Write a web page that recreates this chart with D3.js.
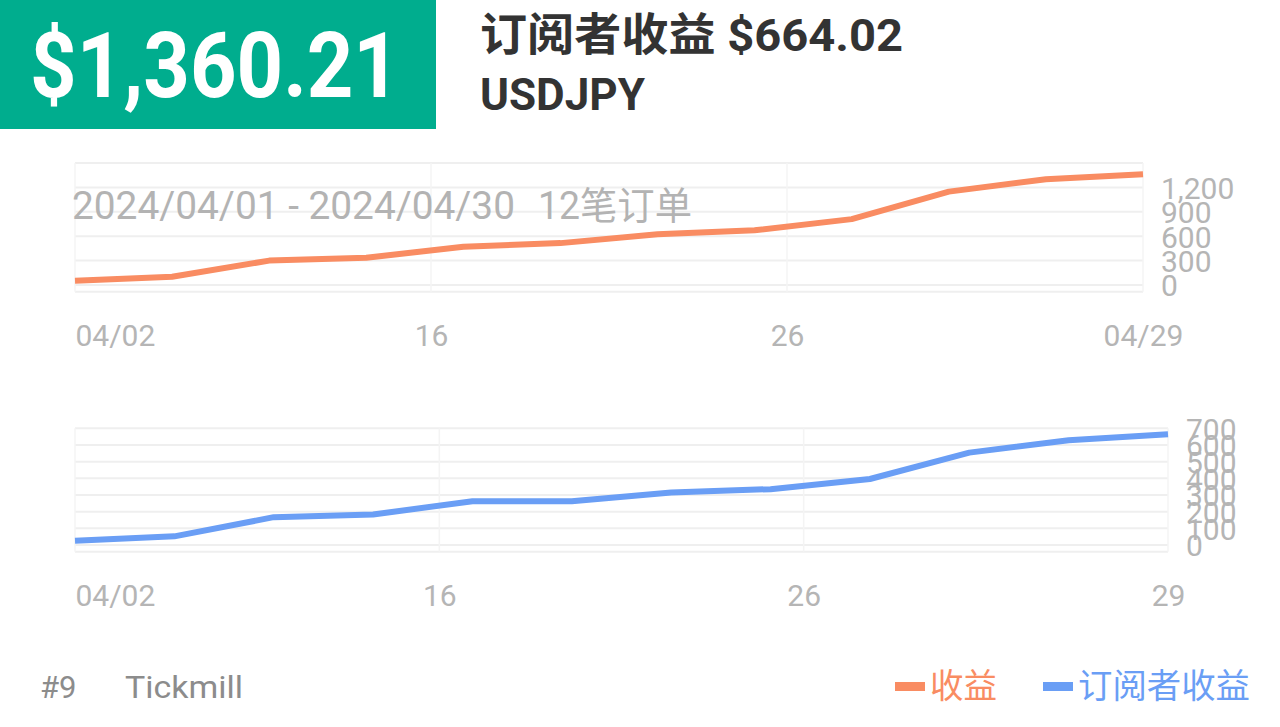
<!DOCTYPE html>
<html><head><meta charset="utf-8">
<script src="https://cdn.jsdelivr.net/npm/d3@7"></script>
<style>
body{margin:0;background:#fff;}
svg{display:block;font-family:Roboto,"Noto Sans CJK SC",sans-serif;}
</style>
</head><body><svg id="c" width="1280" height="727"></svg>
<script>
// ---- data ----
const orders = ["1","2","3","4","5","6","7","8","9","10","11","12"];
const revenue = [53, 102, 300, 335, 470, 515, 625, 672, 810, 1148, 1300, 1360.21];
const subscriberRevenue = [25, 52, 167, 183, 263, 263, 315, 335, 396, 554, 628, 664.02];
const xTickLabelsTop = ["04/02", "16", "26", "04/29"];
const xTickLabelsBottom = ["04/02", "16", "26", "29"];
const yGridTop = [0, 300, 600, 900, 1200, 1500];
const yLabelsTop = [0, 300, 600, 900, 1200];
const yGridBottom = [0, 100, 200, 300, 400, 500, 600, 700];
const yLabelsBottom = [0, 100, 200, 300, 400, 500, 600, 700];
const totalText = "$1,360.21";
const titleText = "订阅者收益 $664.02";
const symbolText = "USDJPY";
const subtitleDates = "2024/04/01 - 2024/04/30";
const subtitleOrders = "12笔订单";
const legendItems = ["收益", "订阅者收益"];
const colors = {revenue: "#f98c62", subscriber: "#6a9ef5", green: "#00ad8e", grid: "#efefef", axis: "#b5b5b5"};

const svg = d3.select("#c");

// header
svg.append("rect").attr("x", 0).attr("y", 0).attr("width", 436).attr("height", 129).attr("fill", colors.green);
svg.append("text").attr("x", 30).attr("y", 97).attr("font-size", 90).attr("font-weight", 700)
  .attr("fill", "#fff").attr("textLength", 370).attr("lengthAdjust", "spacingAndGlyphs").text(totalText);
svg.append("text").attr("x", 480).attr("y", 51).attr("font-size", 45).attr("font-weight", 700)
  .attr("fill", "#333").attr("textLength", 423).attr("lengthAdjust", "spacingAndGlyphs").text(titleText);
svg.append("text").attr("x", 480).attr("y", 110).attr("font-size", 44).attr("font-weight", 700)
  .attr("fill", "#333").text(symbolText);

function drawChart(o) {
  const g = svg.append("g");
  const x = d3.scaleLinear().domain([0, orders.length - 1]).range([o.x0, o.x1]);
  const y = d3.scaleLinear().domain([0, o.yMax]).range([o.bottom - 6.7, o.top]);
  const n = orders.length - 1;
  const xt = [0, n / 3, 2 * n / 3, n];
  // horizontal grid
  g.selectAll(".hg").data(o.grid).join("line")
    .attr("x1", o.x0).attr("x2", o.x1).attr("y1", d => y(d)).attr("y2", d => y(d))
    .attr("stroke", colors.grid).attr("stroke-width", 2);
  g.append("line").attr("x1", o.x0).attr("x2", o.x1).attr("y1", o.bottom).attr("y2", o.bottom)
    .attr("stroke", colors.grid).attr("stroke-width", 2);
  // vertical grid
  g.selectAll(".vg").data(xt).join("line")
    .attr("x1", d => x(d)).attr("x2", d => x(d)).attr("y1", o.top).attr("y2", o.bottom)
    .attr("stroke", "#f4f4f4").attr("stroke-width", 1.5);
  if (o.subtitle) {
    g.append("text").attr("x", 72).attr("y", 219).attr("font-size", 38).attr("fill", "#b3b3b3")
      .attr("textLength", 443).attr("lengthAdjust", "spacingAndGlyphs").text(o.subtitle[0]);
    g.append("text").attr("x", 538).attr("y", 219).attr("font-size", 38).attr("fill", "#b3b3b3")
      .attr("textLength", 154).attr("lengthAdjust", "spacingAndGlyphs").text(o.subtitle[1]);
  }
  // line
  g.append("path").datum(o.values)
    .attr("d", d3.line().x((d, i) => x(i)).y(d => y(d)))
    .attr("fill", "none").attr("stroke", o.color).attr("stroke-width", 6)
    .attr("stroke-linejoin", "round");
  // y axis labels
  const ya = g.append("g").attr("transform", `translate(${o.x1 + 18},0)`)
    .call(d3.axisRight(y).tickValues(o.labels).tickSize(0).tickPadding(0).tickFormat(d3.format(",")));
  ya.select(".domain").remove();
  ya.selectAll("text").attr("font-size", 30).attr("fill", colors.axis).attr("font-family", "Roboto").attr("dy", "0.36em");
  // x axis labels
  const xa = g.append("g").attr("transform", `translate(0,${o.xLabelY})`)
    .call(d3.axisBottom(x).tickValues(xt).tickSize(0).tickPadding(0).tickFormat((d, i) => o.xLabels[i]));
  xa.select(".domain").remove();
  xa.selectAll("text").attr("font-size", 30).attr("fill", colors.axis).attr("font-family", "Roboto")
    .attr("dy", 0).attr("y", 0)
    .attr("text-anchor", (d, i) => i === 0 ? "start" : "middle");
}

drawChart({values: revenue, color: colors.revenue, x0: 75, x1: 1143, top: 163, bottom: 291.7, yMax: 1500,
  grid: yGridTop, labels: yLabelsTop, xLabels: xTickLabelsTop, xLabelY: 346, subtitle: [subtitleDates, subtitleOrders]});
drawChart({values: subscriberRevenue, color: colors.subscriber, x0: 75, x1: 1168, top: 428.3, bottom: 551.7, yMax: 700,
  grid: yGridBottom, labels: yLabelsBottom, xLabels: xTickLabelsBottom, xLabelY: 606});

// footer
svg.append("text").attr("x", 40).attr("y", 698).attr("font-size", 31).attr("fill", "#8c8c8c").text("#9");
svg.append("text").attr("x", 125).attr("y", 698).attr("font-size", 31).attr("fill", "#8c8c8c")
  .attr("textLength", 118).attr("lengthAdjust", "spacingAndGlyphs").text("Tickmill");
const legendX = [895, 1043];
const legendColors = [colors.revenue, colors.subscriber];
const legendW = [67, 172];
legendItems.forEach((t, i) => {
  svg.append("rect").attr("x", legendX[i]).attr("y", 682).attr("width", 30).attr("height", 9).attr("fill", legendColors[i]);
  svg.append("text").attr("x", legendX[i] + 35).attr("y", 698).attr("font-size", 34).attr("fill", legendColors[i])
    .attr("textLength", legendW[i]).attr("lengthAdjust", "spacingAndGlyphs").text(t);
});
</script>
</body></html>
